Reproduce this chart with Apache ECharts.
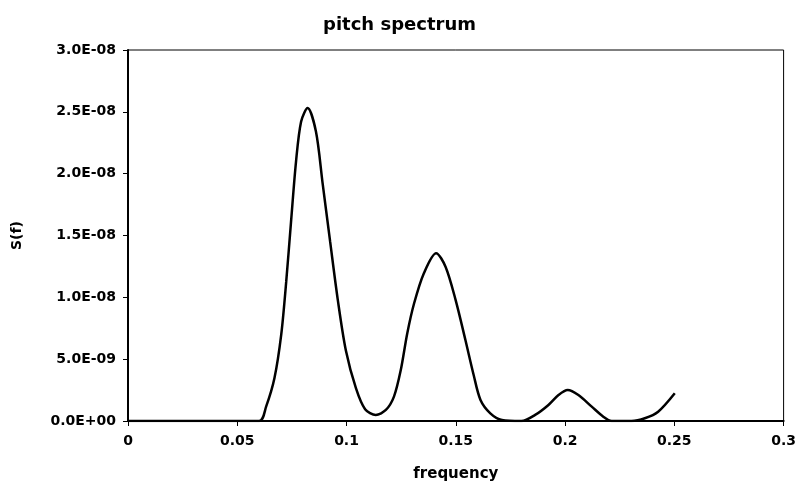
<!DOCTYPE html>
<html>
<head>
<meta charset="utf-8">
<script src="https://cdn.jsdelivr.net/npm/echarts@6/dist/echarts.min.js"></script>
<style>html,body{margin:0;padding:0;background:#fff;}#c{width:799px;height:487px;}</style>
</head>
<body>
<div id="c"></div>
<script>
var freq = [0, 0.06, 0.0632, 0.067, 0.0701, 0.0724, 0.0746, 0.0769, 0.0792, 0.0822, 0.086, 0.089, 0.0925, 0.096, 0.0997, 0.1043, 0.1085, 0.1134, 0.118, 0.1217, 0.1248, 0.1278, 0.1309, 0.1354, 0.141, 0.1453, 0.1499, 0.1544, 0.1582, 0.1613, 0.1658, 0.1711, 0.180, 0.1863, 0.1924, 0.197, 0.2012, 0.2061, 0.2122, 0.2175, 0.2213, 0.2304, 0.2365, 0.2426, 0.2502];
var spec = [0, 0, 0.116e-8, 0.345e-8, 0.696e-8, 1.127e-8, 1.61e-8, 2.10e-8, 2.42e-8, 2.53e-8, 2.34e-8, 1.93e-8, 1.45e-8, 0.98e-8, 0.57e-8, 0.265e-8, 0.095e-8, 0.049e-8, 0.089e-8, 0.197e-8, 0.41e-8, 0.71e-8, 0.95e-8, 1.195e-8, 1.357e-8, 1.248e-8, 0.98e-8, 0.655e-8, 0.37e-8, 0.17e-8, 0.062e-8, 0.008e-8, 0, 0.049e-8, 0.13e-8, 0.21e-8, 0.25e-8, 0.21e-8, 0.116e-8, 0.035e-8, 0, 0, 0.022e-8, 0.075e-8, 0.224e-8];
var xTicks = ['0', '0.05', '0.1', '0.15', '0.2', '0.25', '0.3'];
var yTicks = ['0.0E+00', '5.0E-09', '1.0E-08', '1.5E-08', '2.0E-08', '2.5E-08', '3.0E-08'];

var pts = freq.map(function (f, i) { return [f, spec[i]]; });
var font = '"DejaVu Sans", "Liberation Sans", Arial, sans-serif';
var chart = echarts.init(document.getElementById('c'), null, { renderer: 'canvas' });
chart.setOption({
  backgroundColor: '#fff',
  animation: false,
  title: {
    text: 'pitch spectrum', left: 'center', top: 11,
    textStyle: { fontFamily: font, fontWeight: 'bold', fontSize: 18, color: '#000' }
  },
  grid: { left: 128, right: 12, top: 50, bottom: 66, show: true, borderColor: '#000', borderWidth: 1, backgroundColor: '#fff' },
  xAxis: {
    type: 'value', min: 0, max: 0.3, interval: 0.05,
    name: 'frequency', nameLocation: 'middle', nameGap: 46,
    nameTextStyle: { fontFamily: font, fontWeight: 'bold', fontSize: 15, color: '#000' },
    axisLine: { show: true, onZero: false, lineStyle: { color: '#000', width: 2 } },
    axisTick: { show: true, length: 5, lineStyle: { color: '#000', width: 1 } },
    splitLine: { show: false },
    axisLabel: {
      fontFamily: font, fontWeight: 'bold', fontSize: 14, color: '#000', margin: 13,
      formatter: function (v) { return xTicks[Math.round(v / 0.05)]; }
    }
  },
  yAxis: {
    type: 'value', min: 0, max: 3e-8, interval: 5e-9,
    name: 'S(f)', nameLocation: 'middle', nameGap: 104, nameRotate: 90,
    nameTextStyle: { fontFamily: font, fontWeight: 'bold', fontSize: 14, color: '#000' },
    axisLine: { show: true, lineStyle: { color: '#000', width: 2 } },
    axisTick: { show: true, length: 5, lineStyle: { color: '#000', width: 1 } },
    splitLine: { show: false },
    axisLabel: {
      fontFamily: font, fontWeight: 'bold', fontSize: 14, color: '#000', margin: 12,
      formatter: function (v) { return yTicks[Math.round(v / 5e-9)]; }
    }
  },
  series: [{
    type: 'line', data: pts, smooth: 0.3, showSymbol: false,
    lineStyle: { color: '#000', width: 2.5 }
  }]
});
</script>
</body>
</html>
